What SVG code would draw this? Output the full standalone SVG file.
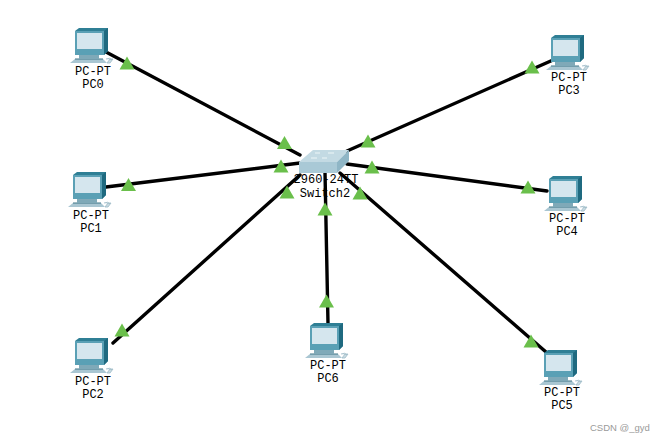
<svg xmlns="http://www.w3.org/2000/svg" width="661" height="442" viewBox="0 0 661 442">
<style>
text{font-family:"Liberation Mono","DejaVu Sans Mono",monospace;font-size:12px;fill:#000;text-anchor:middle}
.l{stroke:#000;stroke-width:3.4;fill:none;stroke-linecap:round}
.t{fill:#6abf4b}
text.wm{font-family:"Liberation Sans",sans-serif;font-size:9.5px;fill:#9a9a9a;text-anchor:start}
</style>
<defs>
<g id="pc">
<path d="M-23 -9L-18 -13H10L14 -9Z" fill="#a9c6d2"/>
<path d="M-18 -13H10" stroke="#3f7486" stroke-width="1"/>
<path d="M-14 -17H6V-13H-14Z" fill="#7fa9b8"/>
<path d="M-18 -41L-14 -44H15V-21L11 -17H-18Z" fill="#2f7f95"/>
<path d="M-18 -41H11V-17H-18Z" fill="#5aa0b5"/>
<path d="M-16 -39H9V-23H-16Z" fill="#d5e6ee"/>
<path d="M11 -41L15 -44V-21L11 -17Z" fill="#1f6a80"/>
<path d="M13 -13q4 -2 6 1M14 -9l3 -4h3l-3 4Z" stroke="#9dbac6" stroke-width=".8" fill="#c9dbe2"/>
</g>
<path id="tri" d="M-7.500 6.500L0 -6.500L7.500 6.500Z"/>
</defs>
<g id="connectors">
<path class="l" d="M106 52L300 155"/>
<path class="l" d="M106 187L300 163"/>
<path class="l" d="M113 343L300 175"/>
<path class="l" d="M553 60L347 151"/>
<path class="l" d="M547 191L347 164"/>
<path class="l" d="M546 352L340 173"/>
<path class="l" d="M328 323L325 172"/>
<g class="t">
<use href="#tri" x="127" y="63"/>
<use href="#tri" x="284.500" y="142.500"/>
<use href="#tri" x="128.500" y="184.500"/>
<use href="#tri" x="281" y="166"/>
<use href="#tri" x="122" y="330"/>
<use href="#tri" x="287" y="192"/>
<use href="#tri" x="532" y="67"/>
<use href="#tri" x="368" y="141"/>
<use href="#tri" x="528" y="187"/>
<use href="#tri" x="372" y="167"/>
<use href="#tri" x="531" y="341"/>
<use href="#tri" x="360" y="193"/>
<use href="#tri" x="326.500" y="301"/>
<use href="#tri" x="325" y="209"/>
</g>
</g>
<g id="switch2">
<path d="M299 162L313 150H349L337 162Z" fill="#c3dae3"/>
<path d="M299 162H337V173H299Z" fill="#a9c9d6"/>
<path d="M337 162L349 150V161L337 173Z" fill="#8fb6c6"/>
<path d="M311 158h6M328 153h6M322 158h5M315 153h5" stroke="#eef6f8" stroke-width="1.2"/>
<text x="326" y="183">2960-24TT</text>
<text x="325" y="197">Switch2</text>
</g>
<g id="pc0"><use href="#pc" x="93" y="72"/><text x="93" y="75">PC-PT</text><text x="93" y="88">PC0</text></g>
<g id="pc1"><use href="#pc" x="91" y="216"/><text x="91" y="219">PC-PT</text><text x="91" y="232">PC1</text></g>
<g id="pc2"><use href="#pc" x="93" y="382"/><text x="93" y="385">PC-PT</text><text x="93" y="398">PC2</text></g>
<g id="pc3"><use href="#pc" x="569" y="79"/><text x="569" y="81">PC-PT</text><text x="569" y="94">PC3</text></g>
<g id="pc4"><use href="#pc" x="567" y="220"/><text x="567" y="222">PC-PT</text><text x="567" y="235">PC4</text></g>
<g id="pc5"><use href="#pc" x="562" y="394"/><text x="562" y="396">PC-PT</text><text x="562" y="409">PC5</text></g>
<g id="pc6"><use href="#pc" x="328" y="367"/><text x="328" y="369">PC-PT</text><text x="328" y="382">PC6</text></g>
<text class="wm" x="590" y="431">CSDN @_gyd</text>
</svg>
